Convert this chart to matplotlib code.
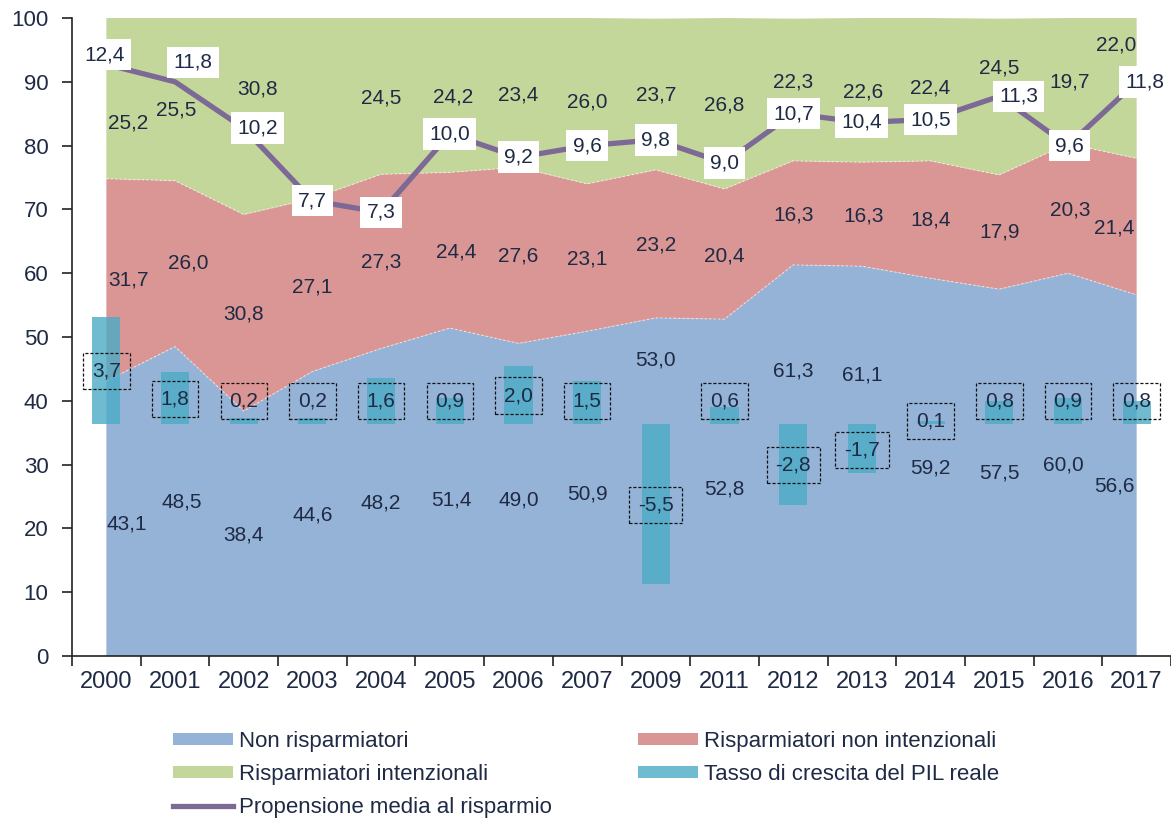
import numpy as np
import matplotlib
matplotlib.use("Agg")
import matplotlib.pyplot as plt
from matplotlib.patches import Patch
from matplotlib.lines import Line2D

plt.rcParams['font.family'] = ['Liberation Sans', 'DejaVu Sans']

# ---------------- data ----------------
years = ['2000', '2001', '2002', '2003', '2004', '2005', '2006', '2007',
         '2009', '2011', '2012', '2013', '2014', '2015', '2016', '2017']
non_risparmiatori = [43.1, 48.5, 38.4, 44.6, 48.2, 51.4, 49.0, 50.9,
                     53.0, 52.8, 61.3, 61.1, 59.2, 57.5, 60.0, 56.6]
risp_non_intenz = [31.7, 26.0, 30.8, 27.1, 27.3, 24.4, 27.6, 23.1,
                   23.2, 20.4, 16.3, 16.3, 18.4, 17.9, 20.3, 21.4]
risp_intenz = [25.2, 25.5, 30.8, 28.3, 24.5, 24.2, 23.4, 26.0,
               23.7, 26.8, 22.3, 22.6, 22.4, 24.5, 19.7, 22.0]
pil_reale = [3.7, 1.8, 0.2, 0.2, 1.6, 0.9, 2.0, 1.5,
             -5.5, 0.6, -2.8, -1.7, 0.1, 0.8, 0.9, 0.8]
propensione = [12.4, 11.8, 10.2, 7.7, 7.3, 10.0, 9.2, 9.6,
               9.8, 9.0, 10.7, 10.4, 10.5, 11.3, 9.6, 11.8]

# label placement (layout only)
blue_lab_y = [20.7, 24.1, 19.0, 22.1, 24.0, 24.5, 24.4, 25.4,
              46.4, 26.2, 44.7, 44.0, 29.4, 28.7, 29.9, 26.7]
red_lab_y = [58.9, 61.6, 53.6, 57.9, 61.8, 63.3, 62.7, 62.3,
             64.4, 62.7, 69.1, 69.0, 68.3, 66.5, 69.9, 67.1]
green_lab_y = [83.5, 85.6, 88.8, None, 87.4, 87.6, 87.9, 86.9,
               87.9, 86.4, 90.0, 88.4, 89.1, 92.1, 89.9, 95.7]
blue_dx = [0.3, 0.1, 0, 0, 0, 0.03, 0, 0, 0, 0, 0, 0, 0, 0, -0.07, -0.32]
red_dx = [0.32, 0.19, 0, 0, 0, 0.1, 0, 0, 0, 0, 0, 0.02, 0, 0, 0.03, -0.32]
green_dx = [0.32, 0.02, 0.2, 0, 0, 0.05, 0, 0, 0, 0, 0, 0.02, 0, 0, 0.03, -0.3]
gdp_lab_pos = [1.83, 0.87, 0.8, 0.8, 0.8, 0.8, 0.98, 0.8,
               -2.79, 0.8, -1.42, -0.89, 0.1, 0.8, 0.8, 0.8]
line_lab_off = [(-1, 7), (13, 14), (10, 0), (0, 0), (0, 0), (0, 0), (0, 0), (0, 0),
                (0, 0), (0, 0), (0, 0), (0, 0), (0, 0), (14, 0), (1, 0), (6, 0)]

c_blue = '#95B3D7'
c_red = '#DA9694'
c_green = '#C4D79B'
c_teal = '#4BACC6'
c_purple = '#7D6996'
c_text = '#1F2A44'
fs_lab = 15

def fmt(v):
    return f"{v:.1f}".replace('.', ',')

fig = plt.figure(figsize=(11.71, 8.19), dpi=100)
ax = fig.add_axes([0.0615, 0.199, 0.9385, 0.779])
x = np.arange(len(years))

ax.stackplot(x, non_risparmiatori, risp_non_intenz, risp_intenz,
             colors=[c_blue, c_red, c_green], linewidth=0)
cum1 = np.array(non_risparmiatori)
cum2 = cum1 + np.array(risp_non_intenz)
for c in (cum1, cum2):
    ax.plot(x, c, color='white', lw=0.8, ls=(0, (2, 2)), alpha=0.6)

ax.set_xlim(-0.5, len(years) - 0.5)
ax.set_ylim(0, 100)
ax.set_yticks(np.arange(0, 101, 10))
ax.set_xticks(x)
ax.set_xticklabels(years)
ax.set_xticks(np.arange(-0.5, len(years), 1.0), minor=True)
ax.tick_params(axis='x', which='major', length=0, labelsize=17, pad=11, colors=c_text)
ax.tick_params(axis='x', which='minor', length=7, width=1.2, color='#222222')
ax.tick_params(axis='y', length=7, width=1.2, pad=10, labelsize=16,
               colors=c_text)
ax.tick_params(axis='y', color='#222222')
for s in ('top', 'right'):
    ax.spines[s].set_visible(False)
for s in ('left', 'bottom'):
    ax.spines[s].set_color('#222222')
    ax.spines[s].set_linewidth(1.2)

# secondary (hidden) axis for GDP growth and saving propensity
ax2 = ax.twinx()
ax2.set_ylim(-8, 14)
ax2.axis('off')
ax2.bar(x, pil_reale, width=0.41, color=c_teal, alpha=0.8, zorder=2)
ax2.plot(x, propensione, color=c_purple, lw=3.8, solid_capstyle='butt', zorder=3)

# area labels
for i in range(len(years)):
    ax2.text(i + blue_dx[i], blue_lab_y[i], fmt(non_risparmiatori[i]),
             transform=ax.transData, ha='center', va='center',
             fontsize=fs_lab, color=c_text, zorder=5)
    ax2.text(i + red_dx[i], red_lab_y[i], fmt(risp_non_intenz[i]),
             transform=ax.transData, ha='center', va='center',
             fontsize=fs_lab, color=c_text, zorder=5)
    if green_lab_y[i] is not None:
        ax2.text(i + green_dx[i], green_lab_y[i], fmt(risp_intenz[i]),
                 transform=ax.transData, ha='center', va='center',
                 fontsize=fs_lab, color=c_text, zorder=5)
    # GDP labels (dashed box)
    ax2.text(i, gdp_lab_pos[i], fmt(pil_reale[i]), ha='center', va='center',
             fontsize=fs_lab, color=c_text, zorder=6,
             bbox=dict(boxstyle='square,pad=0.42', fc='none', ec='#111111',
                       lw=0.9, ls=(0, (2.5, 1.5))))
    # saving propensity labels (white box)
    ax2.annotate(fmt(propensione[i]), (i, propensione[i]),
                 xytext=line_lab_off[i], textcoords='offset points',
                 ha='center', va='center', fontsize=fs_lab, color=c_text, zorder=7,
                 bbox=dict(boxstyle='square,pad=0.3', fc='white', ec='none'))

handles = [
    Patch(facecolor=c_blue, edgecolor='none', label='Non risparmiatori'),
    Patch(facecolor=c_green, edgecolor='none', label='Risparmiatori intenzionali'),
    Line2D([0], [0], color=c_purple, lw=3.8, label='Propensione media al risparmio'),
    Patch(facecolor=c_red, edgecolor='none', label='Risparmiatori non intenzionali'),
    Patch(facecolor=c_teal, alpha=0.8, edgecolor='none', label='Tasso di crescita del PIL reale'),
]
fig.legend(handles=handles, loc='upper left', bbox_to_anchor=(0.1477, 0.108),
           ncol=2, frameon=False, fontsize=16, handlelength=2.7, handleheight=0.45,
           handletextpad=0.25, columnspacing=3.9, labelspacing=0.55,
           borderpad=0, borderaxespad=0, labelcolor=c_text)

fig.savefig('out.png', dpi=100)
